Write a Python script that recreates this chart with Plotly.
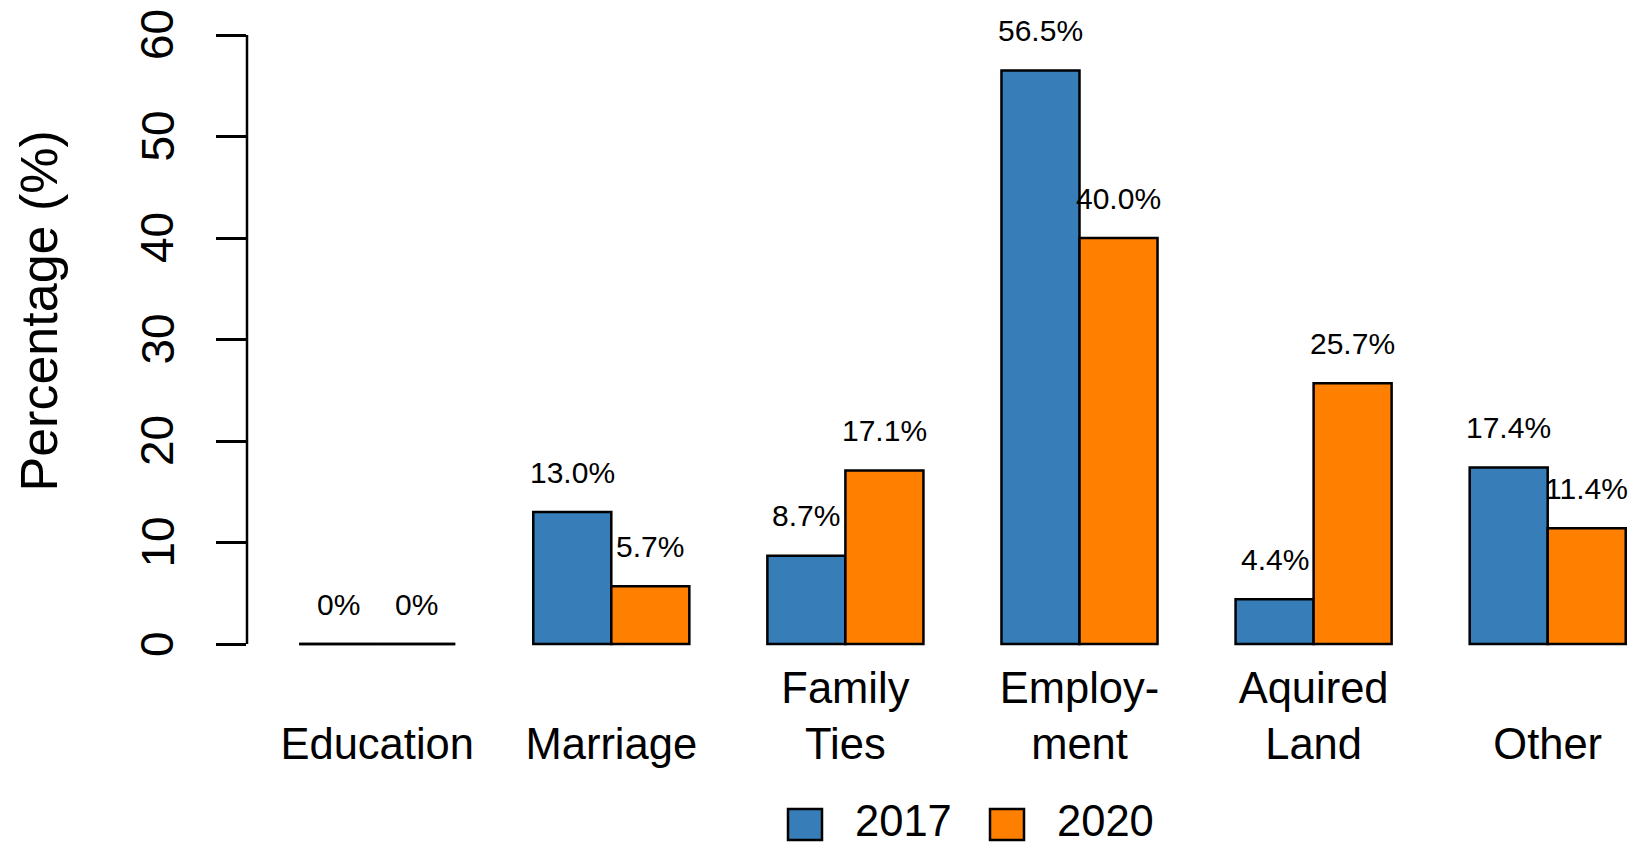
import plotly.graph_objects as go

# ---- data ----
categories = ["Education", "Marriage", "Family Ties", "Employment", "Aquired Land", "Other"]
tick_labels = ["<br>Education", "<br>Marriage", "Family<br>Ties", "Employ-<br>ment", "Aquired<br>Land", "<br>Other"]
years = ["2017", "2020"]
values_2017 = [0, 13.0, 8.7, 56.5, 4.4, 17.4]
values_2020 = [0, 5.7, 17.1, 40.0, 25.7, 11.4]
y_ticks = [0, 10, 20, 30, 40, 50, 60]
y_title = "Percentage (%)"

# ---- styling ----
colors = ["#377EB8", "#FF7F00"]
FONT = "Liberation Sans, Arial, Helvetica, sans-serif"
W, H = 1652, 844
L, R, T, B = 247, 0, 10, 176
pw, ph = W - L - R, H - T - B
x_ppu = 234.1
x_lo = -(377.2 - L) / x_ppu
x_hi = x_lo + pw / x_ppu
y_ppu = (644 - 35) / 60
y_hi = 60 + (35 - T) / y_ppu
y_lo = -((H - B) - 644) / y_ppu


def px_x(px):
    return (px - L) / pw


def px_y(py):
    return ((H - B) - py) / ph


series = [values_2017, values_2020]
n_series = len(series)
bw = (2 / 3) / n_series

fig = go.Figure()
for j, (yr, vals) in enumerate(zip(years, series)):
    fig.add_trace(go.Bar(
        x=categories, y=vals, name=yr, showlegend=False,
        marker=dict(color=colors[j], line=dict(color="black", width=2.5)),
    ))

shapes = []
annotations = []
for j, vals in enumerate(series):
    for i, v in enumerate(vals):
        xc = i - 1 / 3 + bw / 2 + j * bw
        if v == 0:
            shapes.append(dict(type="line", xref="x", yref="y",
                               x0=xc - bw / 2, x1=xc + bw / 2, y0=0, y1=0,
                               line=dict(color="black", width=2.5)))
        label = "0%" if v == 0 else f"{v:.1f}%"
        annotations.append(dict(x=xc, y=v, xref="x", yref="y", text=label,
                                showarrow=False, yanchor="middle", xanchor="center",
                                yshift=40, font=dict(size=30, color="black", family=FONT)))

# y axis line spanning tick range only
shapes.append(dict(type="line", xref="paper", yref="y", x0=0, x1=0,
                   y0=min(y_ticks), y1=max(y_ticks),
                   line=dict(color="black", width=2.5)))

# y tick labels, rotated and centred on their ticks (R style)
for t in y_ticks:
    annotations.append(dict(x=px_x(157), y=t, xref="paper", yref="y", text=str(t),
                            textangle=-90, showarrow=False, xanchor="center", yanchor="middle",
                            font=dict(size=46, color="black", family=FONT)))

# y axis title
annotations.append(dict(x=px_x(38), y=px_y(311.5), xref="paper", yref="paper",
                        text=y_title, textangle=-90, showarrow=False,
                        xanchor="center", yanchor="middle",
                        font=dict(size=52, color="black", family=FONT)))

# legend (R-style boxes)
leg_x0, leg_step, box_w, box_top, box_bot, leg_cy = 788, 202, 34, 809, 840, 821
for j, yr in enumerate(years):
    bx = leg_x0 + j * leg_step
    shapes.append(dict(type="rect", xref="paper", yref="paper",
                       x0=px_x(bx), x1=px_x(bx + box_w), y0=px_y(box_bot), y1=px_y(box_top),
                       fillcolor=colors[j], line=dict(color="black", width=2.5)))
    annotations.append(dict(x=px_x(bx + 65), y=px_y(leg_cy), xref="paper", yref="paper",
                            text=yr, showarrow=False, xanchor="left", yanchor="middle",
                            font=dict(size=43.5, color="black", family=FONT)))

fig.update_layout(
    width=W, height=H,
    margin=dict(l=L, r=R, t=T, b=B, autoexpand=False),
    paper_bgcolor="white", plot_bgcolor="white",
    font=dict(family=FONT, color="black"),
    barmode="group", bargap=1 / 3, bargroupgap=0,
    shapes=shapes, annotations=annotations,
    xaxis=dict(range=[x_lo, x_hi], tickvals=categories, ticktext=tick_labels,
               showline=False, showgrid=False, zeroline=False, ticks="",
               tickfont=dict(size=43.5), ticklabelstandoff=-10),
    yaxis=dict(range=[y_lo, y_hi], tickvals=y_ticks, showticklabels=False,
               showline=False, showgrid=False, zeroline=False,
               ticks="outside", ticklen=30, tickwidth=2.5, tickcolor="black"),
    showlegend=False,
)

fig.write_html("out.html", config={"displayModeBar": False},
               post_script="document.body.style.margin='0';")
